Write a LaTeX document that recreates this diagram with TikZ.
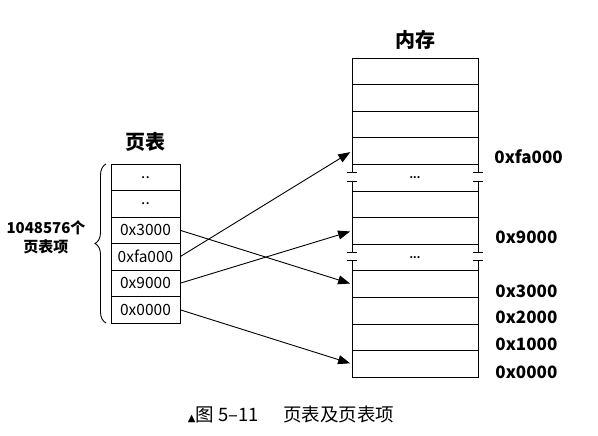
\documentclass[tikz,border=0pt]{standalone}
\usepackage{fontspec}
\setmainfont{Noto Sans CJK SC}
\newfontfamily\symfont{DejaVu Sans}
\usetikzlibrary{positioning, arrows.meta, decorations.pathreplacing}

\begin{document}
\begin{tikzpicture}[
    x=1pt, y=-1pt,
    line width=0.9pt,
    entry/.style={
        rectangle,
        draw=black,
        minimum width=69pt,
        minimum height=26.5pt,
        inner sep=0pt,
        outer sep=0pt,
        font=\fontsize{15.5}{17}\selectfont
    },
    frame/.style={
        rectangle,
        draw=black,
        minimum width=126pt,
        minimum height=26.6pt,
        inner sep=0pt,
        outer sep=0pt
    },
    gap/.style={
        frame,
        draw=none,
        font=\bfseries\fontsize{10}{10}\selectfont
    },
    addr/.style={
        anchor=west,
        inner sep=0pt,
        font=\bfseries\fontsize{17}{20}\selectfont
    },
    title/.style={
        font=\bfseries\fontsize{20}{22}\selectfont
    },
    arrow/.style={
        -{Triangle[length=12pt,width=9pt]}, shorten >=2pt
    }
]
\useasboundingbox (0,0) rectangle (598,436);

% page table
\node (pt_title) [title] at (145,142) {页表};
\node (pt_r1) [entry] at (145.5,177.25) {..};
\node (pt_r2) [entry, below=0pt of pt_r1] {..};
\node (pt_3000) [entry, below=0pt of pt_r2] {0x3000};
\node (pt_fa000) [entry, below=0pt of pt_3000] {0xfa000};
\node (pt_9000) [entry, below=0pt of pt_fa000] {0x9000};
\node (pt_0000) [entry, below=0pt of pt_9000] {0x0000};

\draw [decorate, decoration={brace, amplitude=11pt}]
    ([xshift=-5pt]pt_0000.south west) -- ([xshift=-5pt]pt_r1.north west);
\node (count) [align=center, font=\bfseries\fontsize{15}{19}\selectfont] at (46,237.5) {1048576个\\页表项};

% memory
\node (mem_title) [title] at (415,40) {内存};
\node (mem_r1) [frame] at (415,71.3) {};
\node (mem_r2) [frame, below=0pt of mem_r1] {};
\node (mem_r3) [frame, below=0pt of mem_r2] {};
\node (mem_fa000) [frame, below=0pt of mem_r3] {};
\node (mem_gap1) [gap, below=0pt of mem_fa000] {...};
\node (mem_r6) [frame, below=0pt of mem_gap1] {};
\node (mem_9000) [frame, below=0pt of mem_r6] {};
\node (mem_gap2) [gap, below=0pt of mem_9000] {...};
\node (mem_3000) [frame, below=0pt of mem_gap2] {};
\node (mem_2000) [frame, below=0pt of mem_3000] {};
\node (mem_1000) [frame, below=0pt of mem_2000] {};
\node (mem_0000) [frame, below=0pt of mem_1000] {};

% broken sides
\foreach \g in {mem_gap1, mem_gap2} {
    \foreach \side in {west, east} {
        \draw (\g.north \side) -- ++(0,8) ++(-5,0) -- ++(10,0);
        \draw (\g.south \side) -- ++(0,-10) ++(-5,0) -- ++(10,0);
    }
}

\node (lbl_fa000) [addr, right=16pt of mem_fa000.east, yshift=-6pt] {0xfa000};
\node (lbl_9000) [addr, right=17pt of mem_9000.east, yshift=-6pt] {0x9000};
\node (lbl_3000) [addr, right=17pt of mem_3000.east, yshift=-7pt] {0x3000};
\node (lbl_2000) [addr, right=17pt of mem_2000.east, yshift=-7pt] {0x2000};
\node (lbl_1000) [addr, right=17pt of mem_1000.east, yshift=-7pt] {0x1000};
\node (lbl_0000) [addr, right=17pt of mem_0000.east, yshift=-8pt] {0x0000};

\draw [arrow] (pt_3000.east) -- (mem_3000.west);
\draw [arrow] (pt_fa000.east) -- (mem_fa000.west);
\draw [arrow] (pt_9000.east) -- (mem_9000.west);
\draw [arrow] (pt_0000.east) -- (mem_0000.west);

\node (caption) [font=\fontsize{18.5}{20}\selectfont] at (291,414)
    {{\symfont\fontsize{10}{10}\selectfont ▲}图 5–11\hspace{1.3em}页表及页表项};

\end{tikzpicture}
\end{document}
